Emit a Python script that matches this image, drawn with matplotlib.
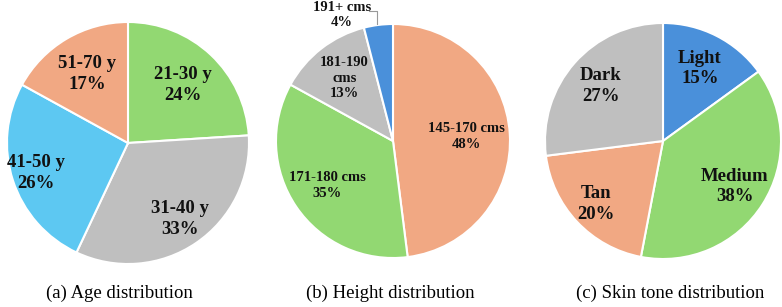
import numpy as np
import matplotlib.pyplot as plt

# data
age_labels = ["21-30 y", "31-40 y", "41-50 y", "51-70 y"]
age_pct = [24, 33, 26, 17]
height_labels = ["145-170 cms", "171-180 cms", "181-190\ncms", "191+ cms"]
height_pct = [48, 35, 13, 4]
skin_labels = ["Light", "Medium", "Tan", "Dark"]
skin_pct = [15, 38, 20, 27]

GREEN = "#92D872"
GRAY = "#BFBFBF"
CYAN = "#5DC8F2"
SALMON = "#F1A883"
BLUE = "#4A90DA"

plt.rcParams.update({
    "font.family": ["Liberation Serif", "DejaVu Serif"],
})

W, H = 782, 307
fig = plt.figure(figsize=(W / 100, H / 100), dpi=100)


def pie_axes(cx, cy, r):
    ax = fig.add_axes([(cx - r) / W, (H - cy - r) / H, 2 * r / W, 2 * r / H])
    return ax


def draw(ax, vals, labels, colors, dists, fs, ls):
    wedges, _ = ax.pie(vals, colors=colors, startangle=90, counterclock=False,
                       radius=1.0, wedgeprops=dict(edgecolor="white", linewidth=1.5))
    cum = np.cumsum([0] + list(vals))
    total = float(sum(vals))
    for i, (lab, v) in enumerate(zip(labels, vals)):
        mid = 90 - (cum[i] + v / 2) / total * 360
        d = dists[i]
        if d is None:
            continue
        x, y = d * np.cos(np.radians(mid)), d * np.sin(np.radians(mid))
        ax.text(x, y, f"{lab}\n{v}%", ha="center", va="center", fontsize=fs,
                fontweight="bold", linespacing=ls, color="#111111")
    ax.set_xlim(-1, 1)
    ax.set_ylim(-1, 1)
    ax.set_aspect("equal")
    ax.axis("off")
    return wedges


ax1 = pie_axes(128, 143, 121)
draw(ax1, age_pct, age_labels, [GREEN, GRAY, CYAN, SALMON], [0.66, 0.76, 0.80, 0.66], 13.5, 1.3)

ax2 = pie_axes(393, 141, 117)
draw(ax2, height_pct, height_labels, [SALMON, GREEN, GRAY, BLUE], [0.63, 0.68, 0.68, None], 10.5, 1.25)
# outside label for the small slice, with leader line
ax2.plot([-0.137, -0.137, -0.205], [1.0, 1.11, 1.11],
         color="#999999", lw=0.8, clip_on=False)
ax2.text(-0.436, 1.075, f"{height_labels[3]}\n{height_pct[3]}%", ha="center", va="center",
         fontsize=10.5, fontweight="bold", linespacing=1.2, color="#111111")

ax3 = pie_axes(663, 141, 118)
draw(ax3, skin_pct, skin_labels, [BLUE, GREEN, SALMON, GRAY], [0.69, 0.72, 0.78, 0.70], 13.5, 1.3)

fig.text(119 / W, 1 - 293 / H, "(a) Age distribution", ha="center", va="center", fontsize=13.5)
fig.text(390 / W, 1 - 293 / H, "(b) Height distribution", ha="center", va="center", fontsize=13.5)
fig.text(670 / W, 1 - 293 / H, "(c) Skin tone distribution", ha="center", va="center", fontsize=13.5)

fig.savefig("out.png", dpi=100, facecolor="white")
